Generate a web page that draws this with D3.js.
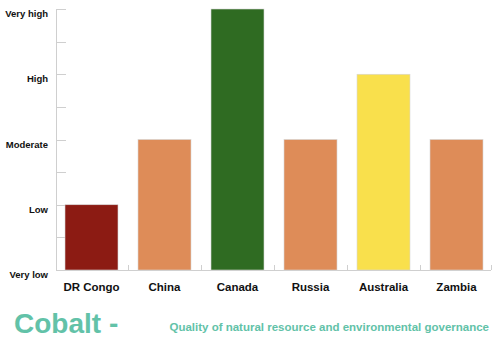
<!DOCTYPE html>
<html>
<head>
<meta charset="utf-8">
<script src="https://cdn.jsdelivr.net/npm/d3@7"></script>
<style>
  html, body { margin: 0; padding: 0; background: #fff; }
  svg { display: block; font-family: "Liberation Sans", Arial, Helvetica, sans-serif; }
</style>
</head>
<body>
<svg id="chart" width="492" height="339"></svg>
<script>
// Governance rating per producing country (0 = Very low ... 4 = Very high)
const countries = ["DR Congo", "China", "Canada", "Russia", "Australia", "Zambia"];
const ratings = [1, 2, 4, 2, 3, 2];
const barColors = ["#8c1b13", "#de8c58", "#2f6b22", "#de8c58", "#f9e04c", "#de8c58"];
const levelLabels = ["Very low", "Low", "Moderate", "High", "Very high"];
const halfSteps = [0, 0.5, 1, 1.5, 2, 2.5, 3, 3.5, 4];

const svg = d3.select("#chart");
const teal = "#62c2a8";
const axisGrey = "#cfcfcf";

const x = d3.scaleBand()
  .domain(countries)
  .range([55, 493])
  .paddingInner(0.274)
  .paddingOuter(0.137);

const y = d3.scaleLinear()
  .domain([0, 4])
  .range([270, 9]);

// y axis: vertical line with half-level ticks
svg.append("line")
  .attr("x1", 56.5).attr("x2", 56.5)
  .attr("y1", y(4)).attr("y2", y(0))
  .attr("stroke", axisGrey).attr("stroke-width", 1);

svg.selectAll(".ytick")
  .data(halfSteps)
  .join("line")
  .attr("class", "ytick")
  .attr("x1", 56.5).attr("x2", 66)
  .attr("y1", d => Math.round(y(d)) + 0.5)
  .attr("y2", d => Math.round(y(d)) + 0.5)
  .attr("stroke", axisGrey).attr("stroke-width", 1);

svg.selectAll(".ylabel")
  .data(levelLabels)
  .join("text")
  .attr("class", "ylabel")
  .attr("x", 48)
  .attr("y", (d, i) => y(i) + 8)
  .attr("text-anchor", "end")
  .attr("font-size", 9.5)
  .attr("font-weight", "bold")
  .attr("fill", "#111")
  .text(d => d);

// x axis: baseline with ticks at band boundaries
svg.append("line")
  .attr("x1", 56).attr("x2", 491)
  .attr("y1", 270.5).attr("y2", 270.5)
  .attr("stroke", axisGrey).attr("stroke-width", 1);

const boundaries = countries.slice(1).map(c => x(c) - x.step() * x.paddingInner() / 2)
  .concat([x(countries[countries.length - 1]) + x.bandwidth() + x.step() * x.paddingInner() / 2 - 2]);
svg.selectAll(".xtick")
  .data(boundaries)
  .join("line")
  .attr("class", "xtick")
  .attr("x1", d => Math.round(d) + 0.5).attr("x2", d => Math.round(d) + 0.5)
  .attr("y1", 265).attr("y2", 270)
  .attr("stroke", axisGrey).attr("stroke-width", 1);

// bars
svg.selectAll(".bar")
  .data(countries)
  .join("rect")
  .attr("class", "bar")
  .attr("x", d => x(d))
  .attr("width", x.bandwidth())
  .attr("y", (d, i) => y(ratings[i]))
  .attr("height", (d, i) => y(0) - y(ratings[i]))
  .attr("fill", (d, i) => barColors[i])
  .attr("stroke", "#d6d6d6")
  .attr("stroke-width", 0.6);

svg.selectAll(".xlabel")
  .data(countries)
  .join("text")
  .attr("class", "xlabel")
  .attr("x", d => x(d) + x.bandwidth() / 2)
  .attr("y", 291)
  .attr("text-anchor", "middle")
  .attr("font-size", 11.5)
  .attr("font-weight", "bold")
  .attr("fill", "#111")
  .text(d => d);

// title and subtitle
svg.append("text")
  .attr("x", 14)
  .attr("y", 333)
  .attr("font-size", 28)
  .attr("font-weight", "bold")
  .attr("fill", teal)
  .text("Cobalt -");

svg.append("text")
  .attr("x", 489)
  .attr("y", 331)
  .attr("text-anchor", "end")
  .attr("font-size", 11.5)
  .attr("font-weight", "bold")
  .attr("fill", teal)
  .text("Quality of natural resource and environmental governance");
</script>
</body>
</html>
